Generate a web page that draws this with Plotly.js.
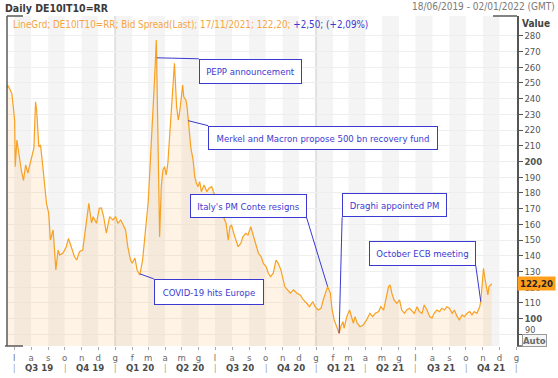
<!DOCTYPE html>
<html><head><meta charset="utf-8">
<script src="https://cdn.plot.ly/plotly-3.0.1.min.js"></script>
<style>html,body{margin:0;padding:0;background:#fff;}#chart{width:558px;height:378px;}</style>
</head><body><div id="chart"></div>
<script>
// ---- data ----
const dates = ['2019-06-18','2019-06-19','2019-06-24','2019-06-27','2019-07-02','2019-07-03','2019-07-06','2019-07-10','2019-07-14','2019-07-18','2019-07-22','2019-07-26','2019-08-01','2019-08-06','2019-08-09','2019-08-11','2019-08-15','2019-08-18','2019-08-21','2019-08-29','2019-09-02','2019-09-05','2019-09-10','2019-09-15','2019-09-19','2019-09-22','2019-09-28','2019-10-04','2019-10-08','2019-10-13','2019-10-19','2019-10-23','2019-10-28','2019-11-03','2019-11-08','2019-11-12','2019-11-14','2019-11-19','2019-11-22','2019-11-28','2019-12-03','2019-12-07','2019-12-11','2019-12-16','2019-12-22','2019-12-28','2020-01-02','2020-01-06','2020-01-11','2020-01-14','2020-01-20','2020-01-24','2020-01-29','2020-02-01','2020-02-06','2020-02-10','2020-02-15','2020-02-20','2020-02-24','2020-02-27','2020-03-01','2020-03-04','2020-03-07','2020-03-10','2020-03-13','2020-03-16','2020-03-17','2020-03-19','2020-03-22','2020-03-25','2020-03-28','2020-03-31','2020-04-03','2020-04-06','2020-04-09','2020-04-13','2020-04-16','2020-04-18','2020-04-22','2020-04-25','2020-04-28','2020-05-01','2020-05-03','2020-05-05','2020-05-09','2020-05-11','2020-05-13','2020-05-15','2020-05-18','2020-05-22','2020-05-25','2020-05-28','2020-05-31','2020-06-03','2020-06-06','2020-06-11','2020-06-16','2020-06-20','2020-06-25','2020-06-28','2020-07-04','2020-07-10','2020-07-16','2020-07-21','2020-07-25','2020-07-28','2020-07-31','2020-08-04','2020-08-08','2020-08-12','2020-08-17','2020-08-21','2020-08-26','2020-08-30','2020-09-04','2020-09-09','2020-09-14','2020-09-18','2020-09-23','2020-09-27','2020-10-02','2020-10-06','2020-10-10','2020-10-15','2020-10-20','2020-10-24','2020-10-29','2020-11-01','2020-11-05','2020-11-10','2020-11-15','2020-11-21','2020-11-27','2020-12-03','2020-12-09','2020-12-15','2020-12-20','2020-12-26','2020-12-30','2021-01-05','2021-01-10','2021-01-14','2021-01-19','2021-01-22','2021-01-27','2021-01-30','2021-02-03','2021-02-08','2021-02-12','2021-02-15','2021-02-19','2021-02-21','2021-02-26','2021-03-03','2021-03-07','2021-03-10','2021-03-13','2021-03-17','2021-03-22','2021-03-28','2021-04-03','2021-04-09','2021-04-14','2021-04-19','2021-04-25','2021-04-29','2021-05-04','2021-05-09','2021-05-13','2021-05-16','2021-05-19','2021-05-23','2021-05-28','2021-06-02','2021-06-06','2021-06-11','2021-06-15','2021-06-20','2021-06-25','2021-06-29','2021-07-04','2021-07-08','2021-07-13','2021-07-17','2021-07-22','2021-07-27','2021-07-31','2021-08-04','2021-08-09','2021-08-14','2021-08-18','2021-08-23','2021-08-27','2021-09-01','2021-09-06','2021-09-10','2021-09-15','2021-09-19','2021-09-24','2021-09-28','2021-10-03','2021-10-08','2021-10-12','2021-10-16','2021-10-21','2021-10-26','2021-10-28','2021-10-31','2021-11-02','2021-11-05','2021-11-08','2021-11-10','2021-11-12','2021-11-15','2021-11-17'];
const spread = [246.6,248.7,245.5,243.0,226.0,196.7,213.7,203.0,194.6,188.0,197.8,192.7,201.0,208.6,238.0,232.8,209.4,210.5,201.0,173.4,167.0,150.0,156.4,131.0,143.7,140.5,141.8,145.8,151.0,145.8,139.4,137.3,142.6,143.7,156.4,167.2,173.4,160.9,164.9,160.7,170.2,170.4,164.9,154.5,164.9,162.8,164.9,160.7,162.8,160.9,156.4,145.8,137.3,135.2,138.6,131.0,127.8,137.3,152.2,167.0,173.4,192.5,211.6,226.4,254.0,277.3,256.0,201.0,152.0,184.0,194.6,196.7,191.4,198.9,213.7,232.8,254.0,262.5,234.9,226.4,232.8,245.5,248.7,241.2,239.0,234.9,226.0,222.0,208.4,201.0,190.3,186.1,184.0,187.2,180.8,185.0,180.8,183.0,184.0,180.8,175.5,169.1,164.9,160.7,150.0,158.5,159.6,154.3,150.0,145.8,148.0,152.2,154.3,153.2,158.5,152.2,145.8,141.6,139.4,135.2,133.1,128.9,126.7,128.9,137.3,135.2,131.0,126.7,120.4,118.3,116.2,118.3,116.2,115.1,111.9,109.8,107.6,110.8,107.6,105.5,106.6,111.9,118.3,120.4,116.2,106.0,99.2,94.9,90.7,94.9,98.1,93.9,101.3,105.5,100.3,97.1,101.3,97.1,94.9,96.0,99.2,103.4,101.3,103.4,104.5,107.6,105.5,114.0,120.4,121.4,116.2,111.9,109.8,111.9,105.5,103.4,105.5,106.6,104.5,103.4,107.6,104.5,103.4,108.7,105.5,101.3,100.3,103.4,105.5,104.5,106.6,105.5,107.6,106.6,103.4,105.5,101.3,99.2,102.4,101.3,103.4,104.5,102.4,104.5,103.4,107.6,110.8,126.7,132.1,124.6,118.3,115.1,120.4,121.4,122.2];

const monthTicks = ['2019-07-01','2019-08-01','2019-09-01','2019-10-01','2019-11-01','2019-12-01','2020-01-01','2020-02-01','2020-03-01','2020-04-01','2020-05-01','2020-06-01','2020-07-01','2020-08-01','2020-09-01','2020-10-01','2020-11-01','2020-12-01','2021-01-01','2021-02-01','2021-03-01','2021-04-01','2021-05-01','2021-06-01','2021-07-01','2021-08-01','2021-09-01','2021-10-01','2021-11-01','2021-12-01','2022-01-01'];
const monthLabels = ['l','a','s','o','n','d','g','f','m','a','m','g','l','a','s','o','n','d','g','f','m','a','m','g','l','a','s','o','n','d','g'];
const quarterStarts = ['2019-07-01','2019-10-01','2020-01-01','2020-04-01','2020-07-01','2020-10-01','2021-01-01','2021-04-01','2021-07-01','2021-10-01','2022-01-01'];
const quarterLabels = ['Q3 19','Q4 19','Q1 20','Q2 20','Q3 20','Q4 20','Q1 21','Q2 21','Q3 21','Q4 21'];
const yTickVals = [90,100,110,120,130,140,150,160,170,180,190,200,210,220,230,240,250,260,270,280];
const yBoldTicks = [100,200];
const yRaisedTick = 90;   // drawn lifted above the "Auto" button, as in the reference

const eventLabels = ['PEPP announcement','Merkel and Macron propose 500 bn recovery fund',"Italy's PM Conte resigns",'Draghi appointed PM','October ECB meeting','COVID-19 hits Europe'];
const eventDates = ['2020-03-17','2020-05-13','2021-01-22','2021-02-12','2021-10-28','2020-02-15'];
const eventValues = [266,226,120.4,90.7,110.8,128.5];

const lastLabel = '122,20';
const headerTitle = 'Daily DE10IT10=RR';
const headerRange = '18/06/2019 - 02/01/2022 (GMT)';
const infoMain = 'LineGrd; DE10IT10=RR; Bid Spread(Last); 17/11/2021; 122,20;';
const infoChange = '+2,50; (+2,09%)';

// ---- styling ----
const FONT = '"DejaVu Sans Condensed", "Liberation Sans", sans-serif';
const BLUE = '#3a3ad2';
const ORANGE = '#f8a021';

const boxStyle = [
  {ax:42, ay:1, xa:'left', ya:'top', w:101, h:23},
  {ax:20, ay:5, xa:'left', ya:'top', w:228, h:22},
  {ax:-21, ay:-69, xa:'right', ya:'bottom', w:115, h:22},
  {ax:3, ay:-116, xa:'left', ya:'bottom', w:103, h:22},
  {ax:-5, ay:-36, xa:'right', ya:'bottom', w:105, h:23},
  {ax:14, ay:5, xa:'left', ya:'top', w:108, h:24}
];

const shapes = [];
const bandEdges = ['2019-06-01'].concat(monthTicks);
for (let i = 0; i < bandEdges.length - 1; i++) {
  if (i % 2 === 1) {
    shapes.push({type:'rect', xref:'x', yref:'paper', x0:bandEdges[i], x1:bandEdges[i+1], y0:0, y1:1,
      fillcolor:'#f4f4f4', line:{width:0}, layer:'below'});
  }
}
['2020-01-01','2021-01-01'].forEach(d => shapes.push({type:'line', xref:'x', yref:'paper', x0:d, x1:d, y0:0, y1:1,
  line:{color:'#e2e2e2', width:2}, layer:'below'}));
const frameCol = '#5a5a5a';
shapes.push({type:'line', xref:'paper', yref:'paper', x0:0, x1:0, y0:0, y1:1, line:{color:frameCol, width:1.5}});
shapes.push({type:'line', xref:'paper', yref:'paper', xsizemode:'pixel', xanchor:0, x0:0, x1:16, y0:1, y1:1, line:{color:frameCol, width:1.5}});
shapes.push({type:'line', xref:'paper', yref:'paper', xsizemode:'pixel', xanchor:0, x0:-2, x1:16, y0:0, y1:0, line:{color:frameCol, width:1.5}});
shapes.push({type:'line', xref:'paper', yref:'paper', xsizemode:'pixel', xanchor:1, x0:-24, x1:0, y0:1, y1:1, line:{color:frameCol, width:1.5}});
shapes.push({type:'line', xref:'paper', yref:'paper', xsizemode:'pixel', xanchor:1, x0:0, x1:8, y0:0, y1:0, line:{color:frameCol, width:1.5}});

const annotations = [];
annotations.push({xref:'paper', yref:'paper', x:0, y:1, xanchor:'left', yanchor:'middle', xshift:-4, yshift:8,
  text:'<b>'+headerTitle+'</b>', showarrow:false, font:{family:FONT, size:10.5, color:'#3a3a3a'}});
annotations.push({xref:'paper', yref:'paper', x:1, y:1, xanchor:'right', yanchor:'middle', xshift:40, yshift:10,
  text:headerRange, showarrow:false, font:{family:FONT, size:10, color:'#7a7a7a'}});
annotations.push({xref:'paper', yref:'paper', x:0, y:1, xanchor:'left', yanchor:'middle', xshift:4, yshift:-8,
  text:'<span style="color:#f6a540">'+infoMain+'</span> <span style="color:'+BLUE+'">'+infoChange+'</span>',
  showarrow:false, font:{family:FONT, size:9.8}});
annotations.push({xref:'paper', yref:'paper', x:1, y:1, xanchor:'left', yanchor:'middle', xshift:3, yshift:-7,
  text:'<b>Value</b>', showarrow:false, font:{family:FONT, size:10, color:'#444'}});
annotations.push({xref:'paper', yref:'y', x:1, y:spread[spread.length-1], xanchor:'left', yanchor:'middle', xshift:0,
  text:'<b>'+lastLabel+'</b>', showarrow:false, bgcolor:'#ff9f1c', borderpad:1, width:35,
  font:{family:FONT, size:9.5, color:'#222'}});
annotations.push({xref:'paper', yref:'paper', x:1, y:0, xanchor:'left', yanchor:'bottom', xshift:5, yshift:-1,
  text:'<b>Auto</b>', showarrow:false, bgcolor:'#f5f5f5', bordercolor:'#9a9a9a', borderwidth:1, borderpad:0,
  font:{family:FONT, size:9.5, color:'#6a6a6a'}});
annotations.push({xref:'paper', yref:'y', x:1, y:yRaisedTick, xanchor:'left', yanchor:'middle', xshift:6, yshift:4,
  text:String(yRaisedTick), showarrow:false, font:{family:FONT, size:9, color:'#555'}});
for (let i = 0; i < quarterLabels.length; i++) {
  const a = new Date(quarterStarts[i]).getTime(), b = new Date(quarterStarts[i+1]).getTime();
  const mid = new Date((a+b)/2).toISOString().replace('T',' ').slice(0,19);
  annotations.push({xref:'x', yref:'paper', x:mid, y:0, yanchor:'middle', yshift:-21, showarrow:false,
    text:'<b>'+quarterLabels[i]+'</b>', font:{family:FONT, size:9.5, color:'#4a4a4a'}});
}
quarterStarts.forEach(d => annotations.push({xref:'x', yref:'paper', x:d, y:0, yanchor:'middle', yshift:-22, showarrow:false,
  text:'|', font:{family:FONT, size:8, color:'#8a8a8a'}}));
eventLabels.forEach((t, i) => {
  const s = boxStyle[i];
  annotations.push({xref:'x', yref:'y', x:eventDates[i], y:eventValues[i], text:t, showarrow:true,
    arrowhead:0, arrowwidth:1, arrowcolor:BLUE, standoff:0, ax:s.ax, ay:s.ay, axref:'pixel', ayref:'pixel',
    xanchor:s.xa, yanchor:s.ya, width:s.w, height:s.h, align:'center', valign:'middle',
    bgcolor:'#ffffff', bordercolor:BLUE, borderwidth:1, borderpad:0,
    font:{family:FONT, size:9.5, color:BLUE}});
});

const trace = {x:dates, y:spread, type:'scatter', mode:'lines', line:{color:ORANGE, width:1.2},
  fill:'tozeroy', fillcolor:'rgba(250,165,50,0.13)', hoverinfo:'skip'};

const layout = {
  width:558, height:378, margin:{l:7, r:41, t:16, b:32},
  paper_bgcolor:'#ffffff', plot_bgcolor:'#ffffff', showlegend:false,
  font:{family:FONT},
  xaxis:{type:'date', range:['2019-06-18','2022-01-02'], tickvals:monthTicks, ticktext:monthLabels,
    ticks:'outside', ticklen:3, tickcolor:'#aaaaaa', tickfont:{family:FONT, size:9.5, color:'#6a6a6a'},
    showgrid:false, zeroline:false, showline:false, fixedrange:true},
  yaxis:{side:'right', range:[82.6, 292.6], tickvals:yTickVals,
    ticktext:yTickVals.map(v => v === yRaisedTick ? '' : (yBoldTicks.includes(v) ? '<b>'+v+'</b>' : String(v))),
    ticks:'outside', ticklen:4, tickcolor:'#555', tickfont:{family:FONT, size:9.5, color:'#555'},
    showline:true, linecolor:'#555', linewidth:1.5, showgrid:true, gridcolor:'#eeeeee', zeroline:false, fixedrange:true},
  shapes:shapes, annotations:annotations
};

Plotly.newPlot('chart', [trace], layout, {displayModeBar:false, staticPlot:true});
</script></body></html>
